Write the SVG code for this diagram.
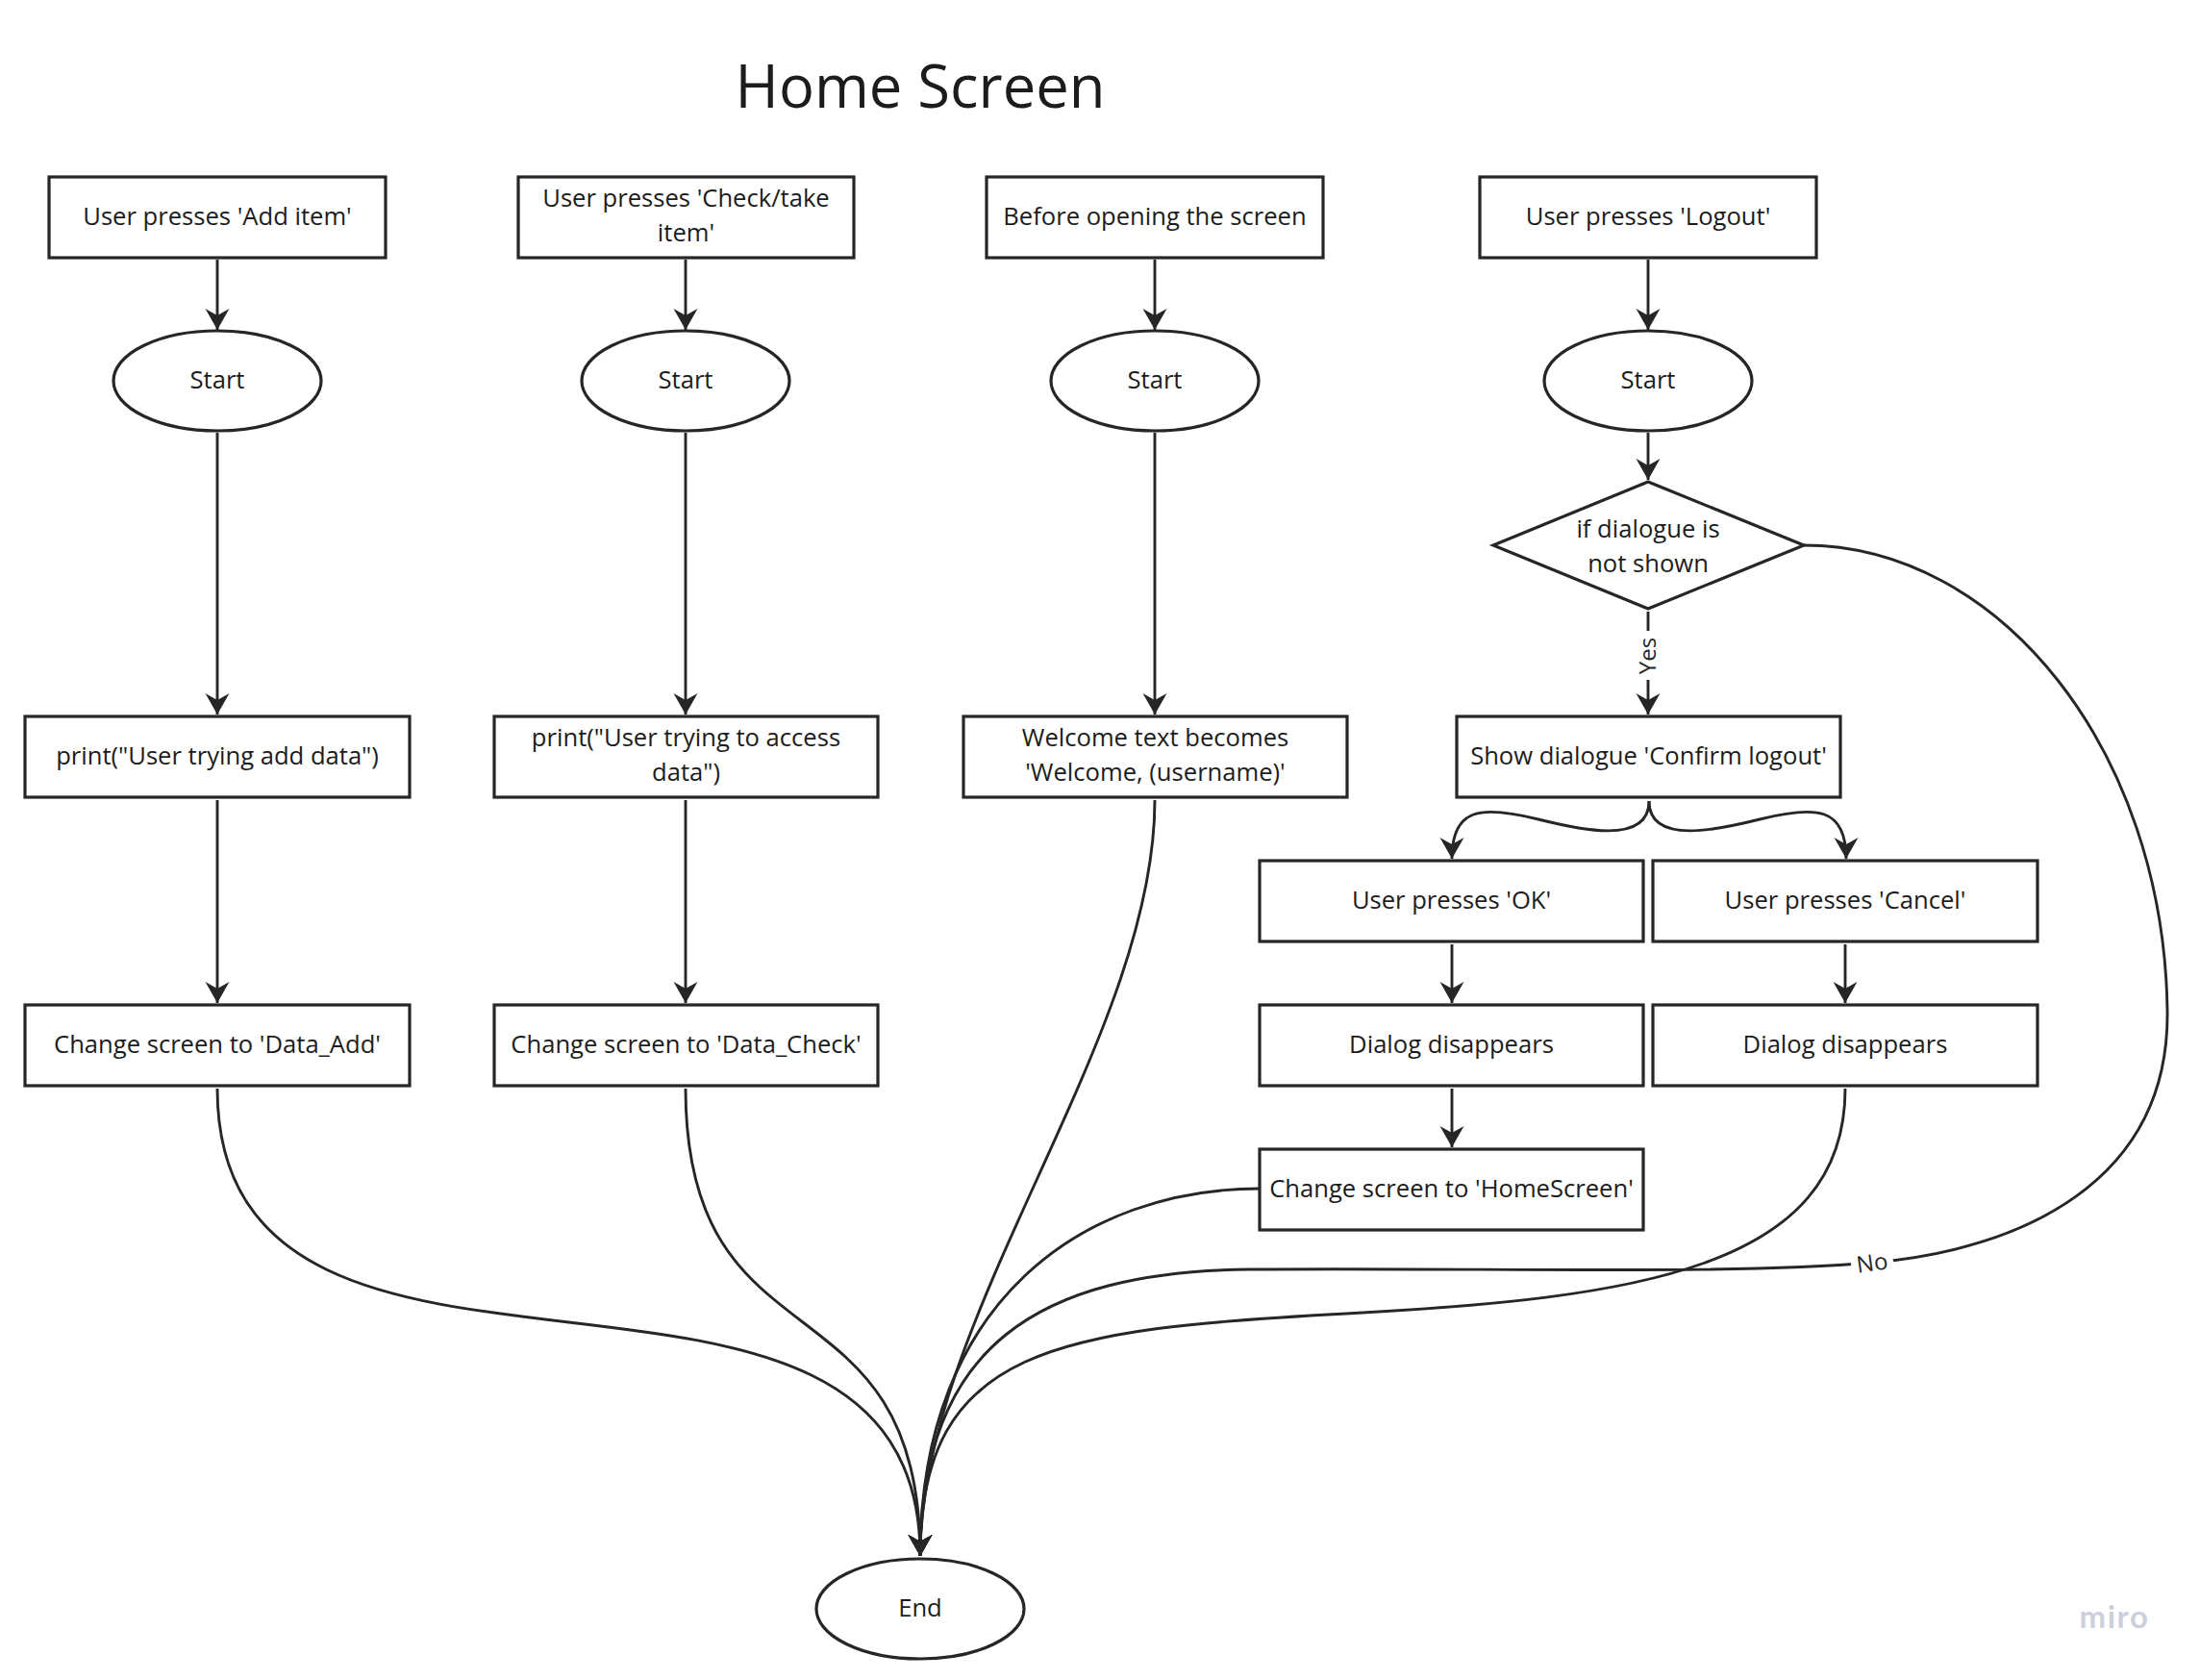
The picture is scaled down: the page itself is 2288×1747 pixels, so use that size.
<svg xmlns="http://www.w3.org/2000/svg" width="2288" height="1747" viewBox="0 0 2288 1747">
<style>
.box{fill:#fff;stroke:#262626;stroke-width:3.2}
.t{font-family:"Open Sans","Noto Sans","Liberation Sans",sans-serif;font-size:25.6px;fill:#1c1c1c;text-anchor:middle}
.title{font-family:"Open Sans","Noto Sans","Liberation Sans",sans-serif;font-size:61.5px;fill:#1c1c1c;text-anchor:middle}
.lbl{font-family:"Open Sans","Noto Sans","Liberation Sans",sans-serif;font-size:24px;fill:#262626;text-anchor:middle}
.c{fill:none;stroke:#262626;stroke-width:2.9;marker-end:url(#arr)}
.cn{fill:none;stroke:#262626;stroke-width:2.9}
</style>
<defs>
<marker id="arr" viewBox="-24 -14 26 28" refX="0" refY="0" markerWidth="26" markerHeight="28" orient="auto" markerUnits="userSpaceOnUse">
<path d="M0,0 L-22,-12.5 L-15,0 L-22,12.5 Z" fill="#262626"/>
</marker>
</defs>
<rect width="2288" height="1747" fill="#fff"/>
<text class="title" x="957" y="112">Home Screen</text>

<g id="connectors">
<path class="c" d="M226,270 V343"/>
<path class="c" d="M713,270 V343"/>
<path class="c" d="M1201,270 V343"/>
<path class="c" d="M1714,270 V343"/>
<path class="c" d="M226,450 V743"/>
<path class="c" d="M713,450 V743"/>
<path class="c" d="M1201,450 V743"/>
<path class="c" d="M1714,450 V499"/>
<path class="cn" d="M1714,636 V656"/>
<path class="c" d="M1714,707 V743"/>
<text class="lbl" transform="translate(1722,682) rotate(-90)" x="0" y="0">Yes</text>
<path class="c" d="M1715,833 C1715,880 1640,862 1600,852 C1540,837 1510,840 1510,893"/>
<path class="c" d="M1715,833 C1715,880 1790,862 1830,852 C1890,837 1920,840 1920,893"/>
<path class="c" d="M226,832 V1043"/>
<path class="c" d="M713,832 V1043"/>
<path class="c" d="M1510,982 V1043"/>
<path class="c" d="M1919,982 V1043"/>
<path class="c" d="M1510,1132 V1193"/>
<path class="c" d="M226,1132 C226,1532 957,1218 957,1618"/>
<path class="c" d="M713,1132 C713,1432 957,1318 957,1618"/>
<path class="c" d="M1201,832 C1201,1082 957,1368 957,1618"/>
<path class="c" d="M1310,1236 C1130,1236 957,1350 957,1618"/>
<path class="c" d="M1919,1132 C1919,1320 1700,1350 1400,1366 C1100,1382 957,1400 957,1618"/>
<path class="c" d="M1876,567 C2080,567 2250,780 2254,1050 C2257,1230 2100,1300 1947,1313 C1800,1326 1550,1318 1300,1320 C1080,1322 957,1400 957,1618"/>
<g transform="translate(1947,1313) rotate(-8)">
<rect x="-22" y="-15" width="44" height="30" fill="#fff"/>
<text class="lbl" x="0" y="8.5">No</text>
</g>
</g>

<g id="n-add"><rect class="box" x="51" y="184" width="350" height="84"/><text class="t" x="226" y="234">User presses 'Add item'</text></g>
<g id="n-check"><rect class="box" x="539" y="184" width="349" height="84"/><text class="t" x="713.5" y="215">User presses 'Check/take</text><text class="t" x="713.5" y="251">item'</text></g>
<g id="n-before"><rect class="box" x="1026" y="184" width="350" height="84"/><text class="t" x="1201" y="234">Before opening the screen</text></g>
<g id="n-logout"><rect class="box" x="1539" y="184" width="350" height="84"/><text class="t" x="1714" y="234">User presses 'Logout'</text></g>

<g id="n-start1"><ellipse class="box" cx="226" cy="396" rx="108" ry="52"/><text class="t" x="226" y="404">Start</text></g>
<g id="n-start2"><ellipse class="box" cx="713" cy="396" rx="108" ry="52"/><text class="t" x="713" y="404">Start</text></g>
<g id="n-start3"><ellipse class="box" cx="1201" cy="396" rx="108" ry="52"/><text class="t" x="1201" y="404">Start</text></g>
<g id="n-start4"><ellipse class="box" cx="1714" cy="396" rx="108" ry="52"/><text class="t" x="1714" y="404">Start</text></g>

<g id="n-diamond"><polygon class="box" points="1714,501 1876,567 1714,633 1553,567"/><text class="t" x="1714" y="559">if dialogue is</text><text class="t" x="1714" y="595">not shown</text></g>

<g id="n-print1"><rect class="box" x="26" y="745" width="400" height="84"/><text class="t" x="226" y="795">print("User trying add data")</text></g>
<g id="n-print2"><rect class="box" x="514" y="745" width="399" height="84"/><text class="t" x="713.5" y="776">print("User trying to access</text><text class="t" x="713.5" y="812">data")</text></g>
<g id="n-welcome"><rect class="box" x="1002" y="745" width="399" height="84"/><text class="t" x="1201.5" y="776">Welcome text becomes</text><text class="t" x="1201.5" y="812">'Welcome, (username)'</text></g>
<g id="n-show"><rect class="box" x="1515" y="745" width="399" height="84"/><text class="t" x="1714.5" y="795">Show dialogue 'Confirm logout'</text></g>

<g id="n-ok"><rect class="box" x="1310" y="895" width="399" height="84"/><text class="t" x="1509.5" y="945">User presses 'OK'</text></g>
<g id="n-cancel"><rect class="box" x="1719" y="895" width="400" height="84"/><text class="t" x="1919" y="945">User presses 'Cancel'</text></g>

<g id="n-change1"><rect class="box" x="26" y="1045" width="400" height="84"/><text class="t" x="226" y="1095">Change screen to 'Data_Add'</text></g>
<g id="n-change2"><rect class="box" x="514" y="1045" width="399" height="84"/><text class="t" x="713.5" y="1095">Change screen to 'Data_Check'</text></g>
<g id="n-dialog1"><rect class="box" x="1310" y="1045" width="399" height="84"/><text class="t" x="1509.5" y="1095">Dialog disappears</text></g>
<g id="n-dialog2"><rect class="box" x="1719" y="1045" width="400" height="84"/><text class="t" x="1919" y="1095">Dialog disappears</text></g>

<g id="n-home"><rect class="box" x="1310" y="1195" width="399" height="84"/><text class="t" x="1509.5" y="1245">Change screen to 'HomeScreen'</text></g>

<g id="n-end"><ellipse class="box" cx="957" cy="1673" rx="108" ry="52"/><text class="t" x="957" y="1681">End</text></g>

<text x="2199" y="1693" font-family="Lato,'Open Sans',sans-serif" font-size="33" font-weight="bold" fill="#cdd0dc" text-anchor="middle" letter-spacing="1.5">miro</text>
</svg>
